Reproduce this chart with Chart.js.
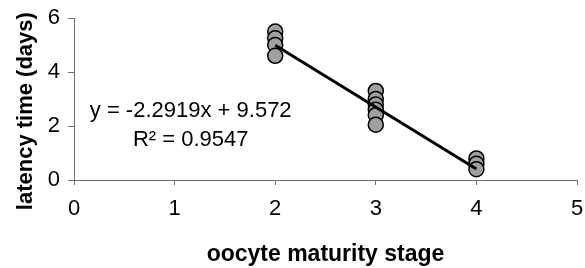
<!DOCTYPE html>
<html>
<head>
<meta charset="utf-8">
<script src="https://cdn.jsdelivr.net/npm/chart.js@4"></script>
<style>
html,body{margin:0;padding:0;background:#fff;}
#wrap{width:585px;height:268px;position:relative;}
</style>
</head>
<body>
<div id="wrap"><canvas id="c" width="585" height="268"></canvas></div>
<script>
// Data
const stageX = [2, 2, 2, 2, 3, 3, 3, 3, 3, 3, 4, 4, 4];
const latencyY = [5.5, 5.25, 5.0, 4.6, 3.3, 3.0, 2.8, 2.6, 2.4, 2.05, 0.8, 0.6, 0.4];
const trendX = [2, 4];
const trendY = [4.988, 0.404];
const xTicks = [0, 1, 2, 3, 4, 5];
const yTicks = [0, 2, 4, 6];
const equationLines = ['y = -2.2919x + 9.572', 'R² = 0.9547'];
const equationAnchor = [1.16, 2.56, 1.5]; // x, y line 1, y line 2 (data units)
const yTitle = 'latency time (days)';
const xTitle = 'oocyte maturity stage';

const FONT = "'Liberation Sans', Arial, sans-serif";
const AXIS = '#6e6e6e';

const textPlugin = {
  id: 'texts',
  afterDatasetsDraw(chart) {
    const {ctx, scales: {x, y}} = chart;
    ctx.save();
    ctx.fillStyle = '#000';
    ctx.font = '22px ' + FONT;
    ctx.textAlign = 'center';
    ctx.textBaseline = 'middle';
    const px = x.getPixelForValue(equationAnchor[0]);
    ctx.fillText(equationLines[0], px, y.getPixelForValue(equationAnchor[1]));
    ctx.fillText(equationLines[1], px, y.getPixelForValue(equationAnchor[2]));
    // y axis title
    ctx.font = 'bold 22px ' + FONT;
    ctx.translate(26, y.getPixelForValue(2.55));
    ctx.rotate(-Math.PI / 2);
    ctx.fillText(yTitle, 0, 0);
    ctx.restore();
  }
};

new Chart(document.getElementById('c'), {
  type: 'scatter',
  data: {
    datasets: [
      {
        type: 'line',
        data: trendX.map((v, i) => ({x: v, y: trendY[i]})),
        borderColor: '#000',
        borderWidth: 3,
        pointRadius: 0,
        fill: false,
        order: 0
      },
      {
        data: stageX.map((v, i) => ({x: v, y: latencyY[i]})),
        backgroundColor: '#a0a0a0',
        borderColor: '#000',
        borderWidth: 1.5,
        pointRadius: 7.5,
        order: 1
      }
    ]
  },
  options: {
    responsive: false,
    animation: false,
    devicePixelRatio: 1,
    layout: {autoPadding: false, padding: {left: 0, right: 8, top: 18, bottom: 0}},
    plugins: {legend: {display: false}, tooltip: {enabled: false}},
    scales: {
      x: {
        type: 'linear',
        min: 0, max: 5,
        afterBuildTicks: s => { s.ticks = xTicks.map(v => ({value: v})); },
        afterFit: s => { s.height = 88; s.paddingRight = 0; s.paddingLeft = 0; },
        grid: {display: true, drawOnChartArea: false, drawTicks: true, tickLength: 5, color: AXIS, lineWidth: 1},
        border: {display: true, color: AXIS, width: 1},
        ticks: {color: '#000', font: {family: FONT, size: 22}, padding: 11, maxRotation: 0},
        title: {display: true, text: xTitle, color: '#000', font: {family: FONT, size: 23, weight: 'bold'}, padding: {top: 6, bottom: 0}}
      },
      y: {
        type: 'linear',
        min: 0, max: 6,
        afterBuildTicks: s => { s.ticks = yTicks.map(v => ({value: v})); },
        afterFit: s => { s.width = 74; s.paddingTop = 0; s.paddingBottom = 0; },
        grid: {display: true, drawOnChartArea: false, drawTicks: true, tickLength: 6, color: AXIS, lineWidth: 1},
        border: {display: true, color: AXIS, width: 1},
        ticks: {color: '#000', font: {family: FONT, size: 22}, padding: 8},
        title: {display: false}
      }
    }
  },
  plugins: [textPlugin]
});
</script>
</body>
</html>
